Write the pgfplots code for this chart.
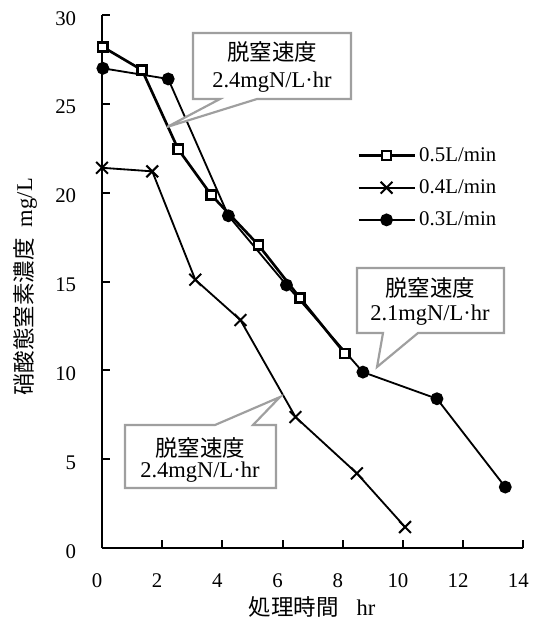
\documentclass[border=0pt]{standalone}
\usepackage{pgfplots}
\pgfplotsset{compat=1.18}
\usepackage{fontspec}
\setmainfont{Liberation Serif}
\newfontfamily\cjk{Noto Sans CJK JP}

\tikzset{callout/.style={draw=gray!75, line width=1.3pt, fill=white, line join=miter}}

\begin{document}
\begin{tikzpicture}
\path[use as bounding box] (0pt,0pt) rectangle (323.4pt,381pt);
\begin{axis}[
    at={(61.2pt,52.2pt)}, anchor=south west,
    scale only axis,
    width=252.8pt, height=319.8pt,
    xmin=0, xmax=14, ymin=0, ymax=30,
    axis lines*=left,
    axis line style={-, line width=1.2pt},
    tick align=inside,
    major tick length=5pt,
    tick style={line width=1.2pt, black},
    xtick={0,2,...,14},
    ytick={0,5,...,30},
    font=\fontsize{12.5}{15}\selectfont,
    /pgf/number format/assume math mode=true,
    yticklabel style={xshift=-12pt, yshift=-2pt},
    xticklabel style={yshift=-12pt, xshift=-3pt},
    clip=false,
    legend style={
        at={(0.605,0.676)}, anchor=west,
        draw=none, fill=none,
        font=\fontsize{12.5}{15}\selectfont,
        row sep=5.5pt,
        inner sep=0pt,
    },
    legend cell align={left},
    legend image code/.code={
        \draw[mark repeat=2, mark phase=2]
            plot coordinates {(0pt,0pt) (16.8pt,0pt) (33.6pt,0pt)};
    },
]

% 0.5 L/min
\addplot[black, line width=1.6pt, mark=square*,
    mark size=2.8pt, mark options={fill=white, line width=1.5pt, solid}]
coordinates {
    (0.03,28.2) (1.33,26.9) (2.53,22.45) (3.63,19.87)
    (5.2,17.05) (6.58,14.07) (8.07,10.95)
};
\addlegendentry{0.5L/min}

% 0.4 L/min
\addplot[black, line width=1.1pt, mark=x, mark size=5pt,
    mark options={line width=1.2pt}]
coordinates {
    (0,21.4) (1.67,21.2) (3.1,15.1) (4.6,12.83)
    (6.43,7.37) (8.47,4.2) (10.07,1.18)
};
\addlegendentry{0.4L/min}

% 0.3 L/min
\addplot[black, line width=1.1pt, mark=*, mark size=3.3pt]
coordinates {
    (0.03,27.0) (2.2,26.4) (4.2,18.7) (6.13,14.8)
    (8.67,9.9) (11.13,8.4) (13.4,3.43)
};
\addlegendentry{0.3L/min}

\end{axis}

% callouts and axis titles, in pixel coordinates from the top left
\begin{scope}[x=0.6pt, y=-0.6pt, shift={(0pt,381pt)}]
    \draw[callout] (193,33) -- (351,33) -- (351,99) -- (257,99)
        -- (167,127) -- (220,99) -- (193,99) -- cycle;
    \node[font=\cjk\fontsize{13.5}{16}\selectfont] at (272,52) {脱窒速度};
    \node[font=\fontsize{13.5}{16}\selectfont] at (272,82) {2.4mgN/L·hr};

    \draw[callout] (357,268) -- (504,268) -- (504,333) -- (418,333)
        -- (377,367) -- (383,333) -- (357,333) -- cycle;
    \node[font=\cjk\fontsize{13.5}{16}\selectfont] at (430,288) {脱窒速度};
    \node[font=\fontsize{13.5}{16}\selectfont] at (430,315) {2.1mgN/L·hr};

    \draw[callout] (125,425) -- (215,425) -- (280,397) -- (253,425)
        -- (276,425) -- (276,488) -- (125,488) -- cycle;
    \node[font=\cjk\fontsize{13.5}{16}\selectfont] at (200,448) {脱窒速度};
    \node[font=\fontsize{13.5}{16}\selectfont] at (200,472) {2.4mgN/L·hr};

    \node[rotate=90, font=\fontsize{13.5}{16}\selectfont] at (25,287)
        {{\cjk 硝酸態窒素濃度}\hspace{0.5em}mg/L};
    \node[font=\fontsize{13.5}{16}\selectfont] at (312,607)
        {{\cjk 処理時間}\hspace{0.8em}hr};
\end{scope}
\end{tikzpicture}
\end{document}
